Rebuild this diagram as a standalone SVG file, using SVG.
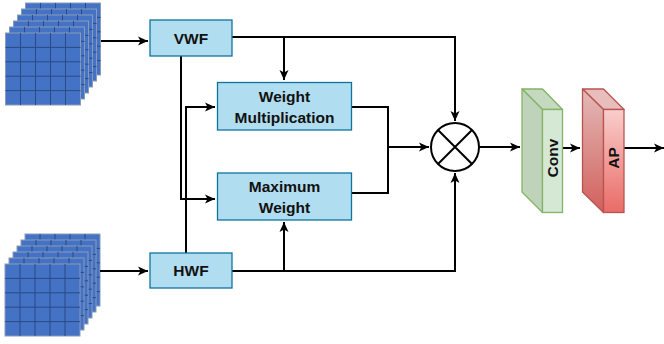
<svg xmlns="http://www.w3.org/2000/svg" width="664" height="344" viewBox="0 0 664 344">
<defs>
  <marker id="arr" markerWidth="12" markerHeight="12" refX="10" refY="6" orient="auto" markerUnits="userSpaceOnUse">
    <path d="M0,1.5 L10,6 L0,10.5 L2.5,6 Z" fill="#000"/>
  </marker>
  <linearGradient id="red" x1="0" y1="0" x2="0" y2="1">
    <stop offset="0" stop-color="#f8cecc"/>
    <stop offset="1" stop-color="#ea6b66"/>
  </linearGradient>
  <linearGradient id="redd" x1="0" y1="0" x2="0" y2="1">
    <stop offset="0" stop-color="#e3bab8"/>
    <stop offset="1" stop-color="#d2605c"/>
  </linearGradient>
  <g id="layer">
    <rect x="0" y="0" width="75" height="72" fill="#4472c4" stroke="#8a9bb8" stroke-width="1"/>
    <path d="M15,0V72M30,0V72M45,0V72M60,0V72M0,14.4H75M0,28.8H75M0,43.2H75M0,57.6H75" stroke="#2a4a85" stroke-width="1" fill="none"/>
  </g>
  <g id="stack">
    <use href="#layer" x="20" y="-30"/>
    <use href="#layer" x="16" y="-24"/>
    <use href="#layer" x="12" y="-18"/>
    <use href="#layer" x="8" y="-12"/>
    <use href="#layer" x="4" y="-6"/>
    <use href="#layer" x="0" y="0"/>
  </g>
</defs>
<style>
  .box { fill: #b1ddf0; stroke: #10739e; stroke-width: 1.3; }
  .lbl { font-family: "Liberation Sans", Arial, sans-serif; font-weight: bold; font-size: 15.5px; fill: #111; text-anchor: middle; }
  .ln { fill: none; stroke: #000; stroke-width: 2; }
</style>

<g id="input-top"><use href="#stack" x="5.5" y="33"/></g>
<g id="input-bottom"><use href="#stack" x="5" y="264"/></g>

<g id="connectors">
  <path class="ln" d="M101,41 H148" marker-end="url(#arr)"/>
  <path class="ln" d="M100,271 H148" marker-end="url(#arr)"/>
  <path class="ln" d="M232,37 H455 V121" marker-end="url(#arr)"/>
  <path class="ln" d="M284,37 V80" marker-end="url(#arr)"/>
  <path class="ln" d="M181,56 V199 H215" marker-end="url(#arr)"/>
  <path class="ln" d="M186,253 V107 H215" marker-end="url(#arr)"/>
  <path class="ln" d="M232,271 H455 V173" marker-end="url(#arr)"/>
  <path class="ln" d="M284,271 V222" marker-end="url(#arr)"/>
  <path class="ln" d="M351,107 H388 V193 H351"/>
  <path class="ln" d="M388,147 H429" marker-end="url(#arr)"/>
  <path class="ln" d="M479,147 H520" marker-end="url(#arr)"/>
  <path class="ln" d="M563,148 H580" marker-end="url(#arr)"/>
  <path class="ln" d="M624,148 H664" marker-end="url(#arr)"/>
</g>

<g id="vwf">
  <rect class="box" x="150" y="20" width="82" height="36"/>
  <text class="lbl" x="191" y="44">VWF</text>
</g>
<g id="hwf">
  <rect class="box" x="150" y="253" width="82" height="35"/>
  <text class="lbl" x="191" y="276">HWF</text>
</g>
<g id="weight-mult">
  <rect class="box" x="217.5" y="82.5" width="134" height="47.5"/>
  <text class="lbl" x="284.5" y="102">Weight</text>
  <text class="lbl" x="284.5" y="123">Multiplication</text>
</g>
<g id="max-weight">
  <rect class="box" x="217.5" y="173" width="134" height="47"/>
  <text class="lbl" x="284.5" y="192">Maximum</text>
  <text class="lbl" x="284.5" y="213">Weight</text>
</g>
<g id="multiply">
  <circle cx="455" cy="147" r="24" fill="#fff" stroke="#000" stroke-width="2"/>
  <path d="M438,130 L472,164 M472,130 L438,164" stroke="#000" stroke-width="2"/>
</g>
<g id="conv">
  <path d="M522,89 H542.5 L562.5,109.5 H542.5 Z" fill="#c4d9c0" stroke="#82b366" stroke-width="1.3" stroke-linejoin="round"/>
  <path d="M522,89 L542.5,109.5 V212.5 L522,192 Z" fill="#bfd3bb" stroke="#82b366" stroke-width="1.3" stroke-linejoin="round"/>
  <rect x="542.5" y="109.5" width="20" height="103" fill="#d5e8d4" stroke="#82b366" stroke-width="1.3"/>
  <text class="lbl" transform="translate(558,158) rotate(-90)">Conv</text>
</g>
<g id="ap">
  <path d="M582.5,89 H603.5 L624,109.5 H603.5 Z" fill="#e7bebc" stroke="#b85450" stroke-width="1.3" stroke-linejoin="round"/>
  <path d="M582.5,89 L603.5,109.5 V212.5 L582.5,192 Z" fill="url(#redd)" stroke="#b85450" stroke-width="1.3" stroke-linejoin="round"/>
  <rect x="603.5" y="109.5" width="20.5" height="103" fill="url(#red)" stroke="#b85450" stroke-width="1.3"/>
  <text class="lbl" transform="translate(619,158) rotate(-90)">AP</text>
</g>
</svg>
